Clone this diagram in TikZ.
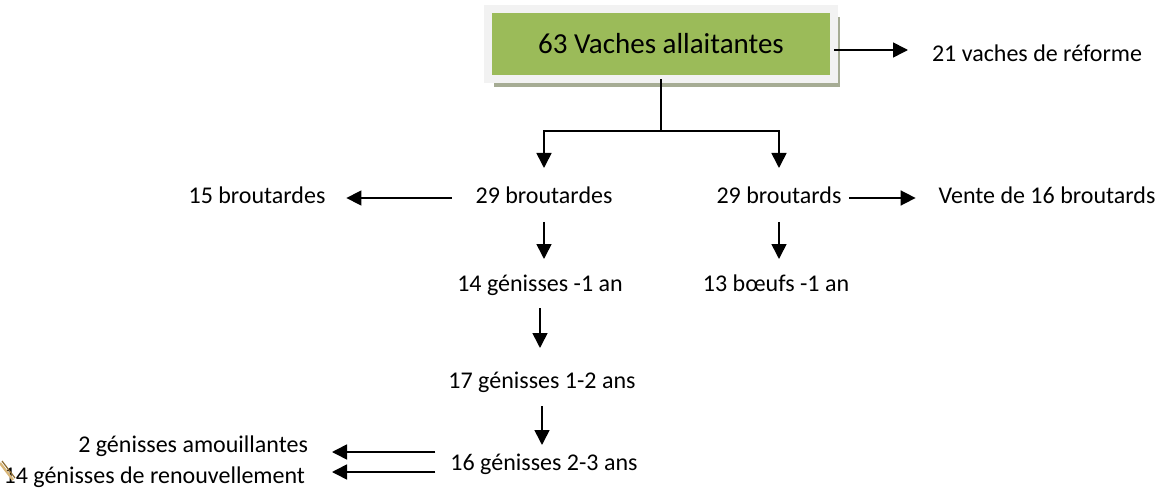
\documentclass[tikz,border=0pt]{standalone}
\usepackage{fontspec}
\setmainfont{Carlito}
\usetikzlibrary{arrows.meta,positioning,shadows}
\definecolor{leafgreen}{HTML}{9BBB59}
\definecolor{framegray}{HTML}{F2F2F2}
\definecolor{rimgray}{HTML}{D4D4D4}
\definecolor{shadowolive}{HTML}{A6AC94}
\definecolor{curltan}{HTML}{D9B77A}
\definecolor{curlbrown}{HTML}{8C6A2E}
\tikzset{
    herd/.style={font=\fontsize{12}{14}\selectfont, inner sep=0pt, outer sep=0pt, text height=9pt, text depth=3pt, anchor=base},
    herd box/.style={rectangle, fill=leafgreen, draw=rimgray, line width=0.2pt, double=framegray, double distance=3.6pt,
        minimum width=173pt, minimum height=35pt, font=\fontsize{14.5}{17}\selectfont,
        drop shadow={shadow xshift=3pt, shadow yshift=-4pt, fill=shadowolive, opacity=1}},
    flow/.style={-{Triangle[length=7.5pt,width=7.5pt]}, line width=0.8pt},
    link/.style={line width=0.8pt}
}

\begin{document}
\begin{tikzpicture}[x=0.5pt,y=-0.5pt]
    \useasboundingbox (0,0) rectangle (1163,492);
    % herd at the top
    \node[herd box] (vaches) at (661,44) {63 Vaches allaitantes};
    \node[herd, anchor=base west] (reforme) at (932,62) {21 vaches de réforme};
    \coordinate (reftip) at (908,50);
    \coordinate (split) at (661,131);
    % calves
    \node[herd] (fem) at (544,204) {29 broutardes};
    \node[herd] (mal) at (779,204) {29 broutards};
    \node[herd] (vend15) at (257,204) {15 broutardes};
    \node[herd] (vente16) at (1047,204) {Vente de 16 broutards};
    % young stock
    \node[herd] (gen1) at (540,292) {14 génisses -1 an};
    \node[herd] (boeufs) at (776,292) {13 bœufs -1 an};
    \node[herd] (gen2) at (542,388) {17 génisses 1-2 ans};
    \node[herd] (gen3) at (544,470) {16 génisses 2-3 ans};
    \node[herd, anchor=base east] (amou) at (308,452) {2 génisses amouillantes};
    \node[herd, anchor=base east] (renouv) at (305,483) {14 génisses de renouvellement};

    \draw[flow] (vaches.east |- reftip) -- (reftip);
    \draw[link] (vaches.south) -- (split);
    \draw[flow, shorten >=9pt] (split) -| (fem.north);
    \draw[flow, shorten >=9pt] (split) -| (mal.north);
    \draw[flow, shorten <=12pt, shorten >=10.5pt] (fem.west) -- (vend15.east);
    \draw[flow, shorten <=4pt, shorten >=11.5pt] (mal.east) -- (vente16.west);
    \draw[flow, shorten <=6pt, shorten >=7.5pt] (fem.south) -- (fem.south |- gen1.north);
    \draw[flow, shorten <=6pt, shorten >=7.5pt] (mal.south) -- (mal.south |- boeufs.north);
    \draw[flow, shorten <=5pt, shorten >=11pt] (gen1.south) -- (gen1.south |- gen2.north);
    \draw[flow, shorten <=6pt, shorten >=3.5pt] (gen2.south) -- (gen2.south |- gen3.north);
    \coordinate (outA) at ([yshift=6pt]gen3.west);
    \coordinate (outB) at ([yshift=-4pt]gen3.west);
    \draw[flow, shorten <=7.5pt, shorten >=12pt] (outA) -- (outA -| amou.east);
    \draw[flow, shorten <=7.5pt, shorten >=13.5pt] (outB) -- (outB -| renouv.east);

    % page curl in the corner
    \draw[curltan, line width=1.2pt] (0,463) -- (13,480);
    \draw[curlbrown, line width=0.6pt] (2,461) -- (15,478);
\end{tikzpicture}
\end{document}
